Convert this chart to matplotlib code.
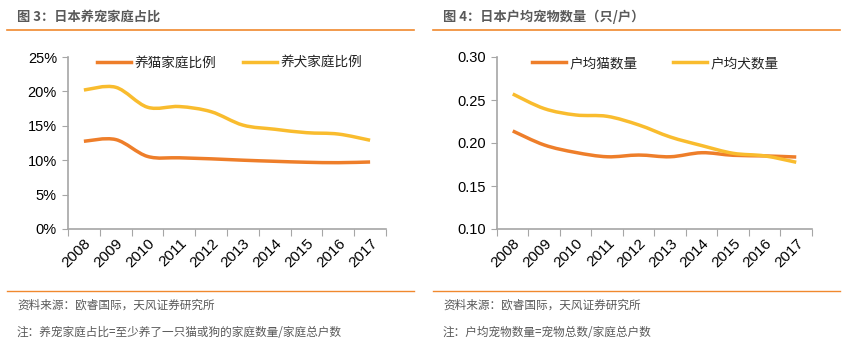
import matplotlib
matplotlib.use("Agg")
import matplotlib.pyplot as plt
import numpy as np
from matplotlib.path import Path
from matplotlib.patches import PathPatch
from matplotlib.lines import Line2D
from matplotlib.ticker import FuncFormatter, MultipleLocator

plt.rcParams['font.family'] = ['Noto Sans CJK SC', 'DejaVu Sans']

years = ['2008', '2009', '2010', '2011', '2012', '2013', '2014', '2015', '2016', '2017']
cat_household_pct = [12.75, 13.0, 10.55, 10.35, 10.2, 10.0, 9.84, 9.7, 9.64, 9.74]
dog_household_pct = [20.2, 20.6, 17.7, 17.8, 17.05, 15.1, 14.5, 14.0, 13.8, 12.9]
cats_per_household = [0.214, 0.1977, 0.189, 0.184, 0.186, 0.184, 0.1887, 0.1857, 0.185, 0.1837]
dogs_per_household = [0.257, 0.240, 0.2326, 0.231, 0.221, 0.207, 0.197, 0.188, 0.185, 0.1776]

left_title = '图 3：日本养宠家庭占比'
right_title = '图 4：日本户均宠物数量（只/户）'
left_labels = ['养猫家庭比例', '养犬家庭比例']
right_labels = ['户均猫数量', '户均犬数量']
source = '资料来源：欧睿国际，天风证券研究所'
left_note = '注：养宠家庭占比=至少养了一只猫或狗的家庭数量/家庭总户数'
right_note = '注：户均宠物数量=宠物总数/家庭总户数'

CAT = '#EE7E2A'
DOG = '#F9BC2E'
ORANGE = '#F0892E'
GRAY_TXT = '#595959'
AX_GRAY = '#A6A6A6'


def smooth_path(ax, xs, ys, color):
    """Draw a smoothed (Catmull-Rom style) line through data points."""
    xs = np.asarray(xs, float)
    ys = np.asarray(ys, float)
    n = len(xs)
    verts = [(xs[0], ys[0])]
    codes = [Path.MOVETO]
    t = 1 / 6.0
    for i in range(n - 1):
        p0 = (xs[i - 1], ys[i - 1]) if i > 0 else (xs[i], ys[i])
        p1 = (xs[i], ys[i])
        p2 = (xs[i + 1], ys[i + 1])
        p3 = (xs[i + 2], ys[i + 2]) if i + 2 < n else (xs[i + 1], ys[i + 1])
        c1 = (p1[0] + (p2[0] - p0[0]) * t, p1[1] + (p2[1] - p0[1]) * t)
        c2 = (p2[0] - (p3[0] - p1[0]) * t, p2[1] - (p3[1] - p1[1]) * t)
        verts += [c1, c2, p2]
        codes += [Path.CURVE4] * 3
    patch = PathPatch(Path(verts, codes), facecolor='none', edgecolor=color,
                      lw=2.5, capstyle='butt', zorder=3)
    ax.add_patch(patch)


fig = plt.figure(figsize=(8.54, 3.58), dpi=100)
W, H = 854, 358


def fx(px):
    return px / W


def fy(py):
    return 1 - py / H


def setup_axes(left_px, right_px, ylim, ystep, fmt):
    ax = fig.add_axes([fx(left_px), fy(229), fx(right_px - left_px), (229 - 57) / H])
    x = np.arange(len(years))
    ax.set_xlim(-0.5, len(years) - 0.5)
    ax.set_ylim(*ylim)
    ax.yaxis.set_major_locator(MultipleLocator(ystep))
    ax.yaxis.set_major_formatter(FuncFormatter(fmt))
    ax.set_xticks(np.arange(-0.5, len(years), 1.0))
    ax.set_xticklabels([])
    ax.set_xticks(x, minor=True)
    ax.set_xticklabels(years, minor=True, rotation=45, ha='right',
                       rotation_mode='anchor', fontsize=11, color='black',
                       family=['Liberation Sans', 'DejaVu Sans'])
    ax.tick_params(axis='x', which='minor', length=0, pad=5)
    ax.tick_params(axis='x', which='major', length=5, color=AX_GRAY, direction='out')
    ax.tick_params(axis='y', length=4, color=AX_GRAY, direction='out', labelsize=10.5, pad=4)
    for lab in ax.get_yticklabels():
        lab.set_family(['Liberation Sans', 'DejaVu Sans'])
    for s in ['top', 'right']:
        ax.spines[s].set_visible(False)
    for s in ['left', 'bottom']:
        ax.spines[s].set_color(AX_GRAY)
        ax.spines[s].set_linewidth(1.2)
    ax.set_facecolor('none')
    return ax, x


axL, x = setup_axes(68, 386, (0, 25), 5, lambda v, p: f'{v:.0f}%')
smooth_path(axL, x, cat_household_pct, CAT)
smooth_path(axL, x, dog_household_pct, DOG)

axR, x = setup_axes(497, 812, (0.10, 0.30), 0.05, lambda v, p: f'{v:.2f}')
smooth_path(axR, x, cats_per_household, CAT)
smooth_path(axR, x, dogs_per_household, DOG)

for labels, bbox, colsp in [(left_labels, (fx(97), fy(63)), 2.0),
                            (right_labels, (fx(532), fy(63)), 2.6)]:
    handles = [Line2D([], [], color=CAT, lw=2.5), Line2D([], [], color=DOG, lw=2.5)]
    fig.legend(handles, labels, loc='center left', bbox_to_anchor=bbox, ncol=2,
               frameon=False, fontsize=9.8, handlelength=2.5, handletextpad=0.25,
               columnspacing=colsp, borderaxespad=0, borderpad=0,
               labelcolor='#222222')

# titles and rules
for x0, x1, title, note in [(7, 414, left_title, left_note),
                            (433, 840, right_title, right_note)]:
    fig.text(fx(x0 + 10), fy(17), title, fontsize=9.5, fontweight='bold',
             color=GRAY_TXT, va='center', ha='left')
    fig.add_artist(Line2D([fx(x0), fx(x1)], [fy(30), fy(30)], color=ORANGE, lw=1.2))
    fig.add_artist(Line2D([fx(x0), fx(x1)], [fy(291), fy(291)], color=ORANGE, lw=1.0))
    fig.text(fx(x0 + 10), fy(305), source, fontsize=8.4, color=GRAY_TXT, va='center', ha='left')
    fig.text(fx(x0 + 10), fy(332), note, fontsize=8.4, color=GRAY_TXT, va='center', ha='left')

fig.savefig('out.png', dpi=100, facecolor='white')
